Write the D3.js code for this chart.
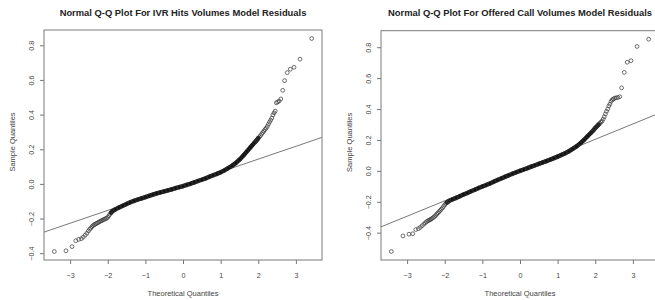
<!DOCTYPE html>
<html>
<head>
<meta charset="utf-8">
<script src="https://cdn.jsdelivr.net/npm/d3@7"></script>
<style>
  body { margin: 0; background: #fff; }
  svg { display: block; font-family: "Liberation Sans", Arial, sans-serif; }
</style>
</head>
<body>
<svg id="chart" width="655" height="300"></svg>
<script>
// theoretical quantiles (same n in both panels)
const theoQ = [
  -3.42, -3.11, -2.95, -2.85, -2.77, -2.70, -2.65, -2.60, -2.555, -2.515,
  -2.48, -2.45, -2.42, -2.39, -2.36, -2.33, -2.30, -2.27, -2.24, -2.21,
  -2.18, -2.15, -2.12, -2.09, -2.06, -2.03, -2.00, -1.97, -1.94, -1.91, -1.88,
  -1.8, -1.7, -1.6, -1.5, -1.4, -1.3, -1.2, -1.1, -1.0, -0.9, -0.8, -0.7, -0.6,
  -0.5, -0.4, -0.3, -0.2, -0.1, 0.0, 0.1, 0.2, 0.3, 0.4, 0.5, 0.6, 0.7, 0.8,
  0.9, 1.0, 1.1, 1.2, 1.3, 1.4, 1.5, 1.6, 1.7, 1.8, 1.9,
  1.94, 1.97, 2.00, 2.03, 2.06, 2.09, 2.12, 2.15, 2.18, 2.21, 2.24, 2.27,
  2.30, 2.33, 2.36, 2.39, 2.42, 2.45, 2.48, 2.515, 2.555, 2.60, 2.65, 2.70,
  2.77, 2.85, 2.95, 3.11, 3.42
];

// sample quantiles, IVR hits volumes model residuals
const ivrSample = [
  -0.390, -0.386, -0.362, -0.328, -0.320, -0.316, -0.307, -0.296, -0.285, -0.272,
  -0.262, -0.255, -0.247, -0.241, -0.236, -0.232, -0.228, -0.225, -0.221, -0.217,
  -0.214, -0.211, -0.207, -0.204, -0.201, -0.198, -0.193, -0.184, -0.175, -0.166, -0.158,
  -0.147, -0.136, -0.126, -0.116, -0.106, -0.098, -0.090, -0.083, -0.076, -0.069,
  -0.062, -0.055, -0.049, -0.043, -0.037, -0.031, -0.025, -0.019, -0.013, -0.006,
  0.001, 0.009, 0.017, 0.024, 0.032, 0.041, 0.050, 0.058, 0.067, 0.078, 0.091,
  0.104, 0.120, 0.140, 0.163, 0.188, 0.213, 0.238,
  0.247, 0.255, 0.264, 0.271, 0.279, 0.288, 0.297, 0.305, 0.314, 0.322, 0.332,
  0.345, 0.357, 0.368, 0.380, 0.398, 0.410, 0.420, 0.468, 0.473, 0.478, 0.490,
  0.540, 0.596, 0.642, 0.662, 0.673, 0.720, 0.839
];

// sample quantiles, offered call volumes model residuals
const callSample = [
  -0.522, -0.421, -0.410, -0.407, -0.380, -0.374, -0.366, -0.355, -0.345, -0.336,
  -0.329, -0.324, -0.320, -0.316, -0.312, -0.307, -0.301, -0.295, -0.288, -0.280,
  -0.272, -0.264, -0.256, -0.248, -0.240, -0.230, -0.220, -0.211, -0.205, -0.199, -0.194,
  -0.185, -0.175, -0.164, -0.153, -0.143, -0.132, -0.122, -0.111, -0.101, -0.092,
  -0.082, -0.071, -0.060, -0.049, -0.039, -0.029, -0.019, -0.009, 0.000, 0.009,
  0.018, 0.027, 0.036, 0.045, 0.054, 0.063, 0.072, 0.082, 0.092, 0.103, 0.114,
  0.127, 0.142, 0.158, 0.178, 0.200, 0.225, 0.250,
  0.260, 0.269, 0.278, 0.285, 0.292, 0.300, 0.308, 0.315, 0.322, 0.335, 0.350,
  0.368, 0.385, 0.400, 0.420, 0.432, 0.450, 0.460, 0.465, 0.470, 0.473, 0.475,
  0.480, 0.537, 0.637, 0.703, 0.713, 0.805, 0.852
];

// qqline [intercept, slope]
const ivrQQLine = [-0.005, 0.074];
const callQQLine = [0.005, 0.0995];

const xTicks = [-3, -2, -1, 0, 1, 2, 3];
const yTicks = [-0.4, -0.2, 0.0, 0.2, 0.4, 0.6, 0.8];
const titles = [
  "Normal Q-Q Plot For IVR Hits Volumes Model Residuals",
  "Normal Q-Q Plot For Offered Call Volumes Model Residuals"
];

const panels = [
  { title: titles[0], sample: ivrSample, qq: ivrQQLine, left: 44, top: 30, band: [-1.92, 2.0] },
  { title: titles[1], sample: callSample, qq: callQQLine, left: 381, top: 30.7, band: [-1.95, 2.1] }
];

const svg = d3.select("#chart");
const W = 278, BOTTOM = 260;

// R style 4% range extension
const pad = ext => {
  const d = (ext[1] - ext[0]) * 0.04;
  return [ext[0] - d, ext[1] + d];
};

panels.forEach((p, i) => {
  const h = BOTTOM - p.top;
  const x = d3.scaleLinear().domain(pad(d3.extent(theoQ))).range([0, W]);
  const y = d3.scaleLinear().domain(pad(d3.extent(p.sample))).range([h, 0]);
  const pts = theoQ.map((q, j) => ({ q: q, v: p.sample[j] }));

  const g = svg.append("g").attr("transform", `translate(${p.left},${p.top})`);

  g.append("clipPath").attr("id", "clip" + i)
    .append("rect").attr("width", W).attr("height", h);

  const plot = g.append("g").attr("clip-path", `url(#clip${i})`);

  // qqline across the whole region
  const xd = x.domain();
  plot.append("line")
    .attr("x1", x(xd[0])).attr("y1", y(p.qq[0] + p.qq[1] * xd[0]))
    .attr("x2", x(xd[1])).attr("y2", y(p.qq[0] + p.qq[1] * xd[1]))
    .attr("stroke", "#555").attr("stroke-width", 0.8);

  // overplotted body of the point cloud
  const body = pts.filter(d => d.q >= p.band[0] && d.q <= p.band[1]);
  plot.append("path")
    .datum(body)
    .attr("d", d3.line().x(d => x(d.q)).y(d => y(d.v)))
    .attr("fill", "none")
    .attr("stroke", "#111")
    .attr("stroke-width", 4.4)
    .attr("stroke-linecap", "round");

  plot.selectAll("circle")
    .data(pts)
    .enter().append("circle")
    .attr("cx", d => x(d.q))
    .attr("cy", d => y(d.v))
    .attr("r", 1.9)
    .attr("fill", "none")
    .attr("stroke", "#333")
    .attr("stroke-width", 0.7);

  // axes
  const xa = g.append("g").attr("transform", `translate(0,${h})`)
    .call(d3.axisBottom(x).tickValues(xTicks).tickFormat(d3.format("d"))
      .tickSize(4).tickSizeOuter(0).tickPadding(9));
  const ya = g.append("g")
    .call(d3.axisLeft(y).tickValues(yTicks).tickFormat(d3.format(".1f"))
      .tickSize(4).tickSizeOuter(0));

  [xa, ya].forEach(a => {
    a.select(".domain").remove();
    a.selectAll("line").attr("stroke", "#777");
    a.selectAll("text").attr("fill", "#444").style("font-size", "7.2px")
      .style("font-family", "Liberation Sans, Arial, sans-serif");
  });
  ya.selectAll("text")
    .attr("x", null).attr("dy", null)
    .attr("text-anchor", "middle")
    .attr("transform", "translate(-10.5,0) rotate(-90)");

  g.append("rect")
    .attr("width", W).attr("height", h)
    .attr("fill", "none").attr("stroke", "#7a7a7a").attr("stroke-width", 1);

  // titles and axis labels
  svg.append("text")
    .attr("x", p.left + W / 2).attr("y", 15.5)
    .attr("text-anchor", "middle")
    .style("font-size", "9.4px").style("font-weight", "bold")
    .attr("fill", "#222")
    .text(p.title);

  svg.append("text")
    .attr("x", p.left + W / 2).attr("y", 296)
    .attr("text-anchor", "middle")
    .style("font-size", "7.5px").attr("fill", "#444")
    .text("Theoretical Quantiles");

  svg.append("text")
    .attr("transform", `translate(${p.left - 29},${p.top + h / 2 - 3}) rotate(-90)`)
    .attr("text-anchor", "middle")
    .style("font-size", "7.5px").attr("fill", "#444")
    .text("Sample Quantiles");
});
</script>
</body>
</html>
